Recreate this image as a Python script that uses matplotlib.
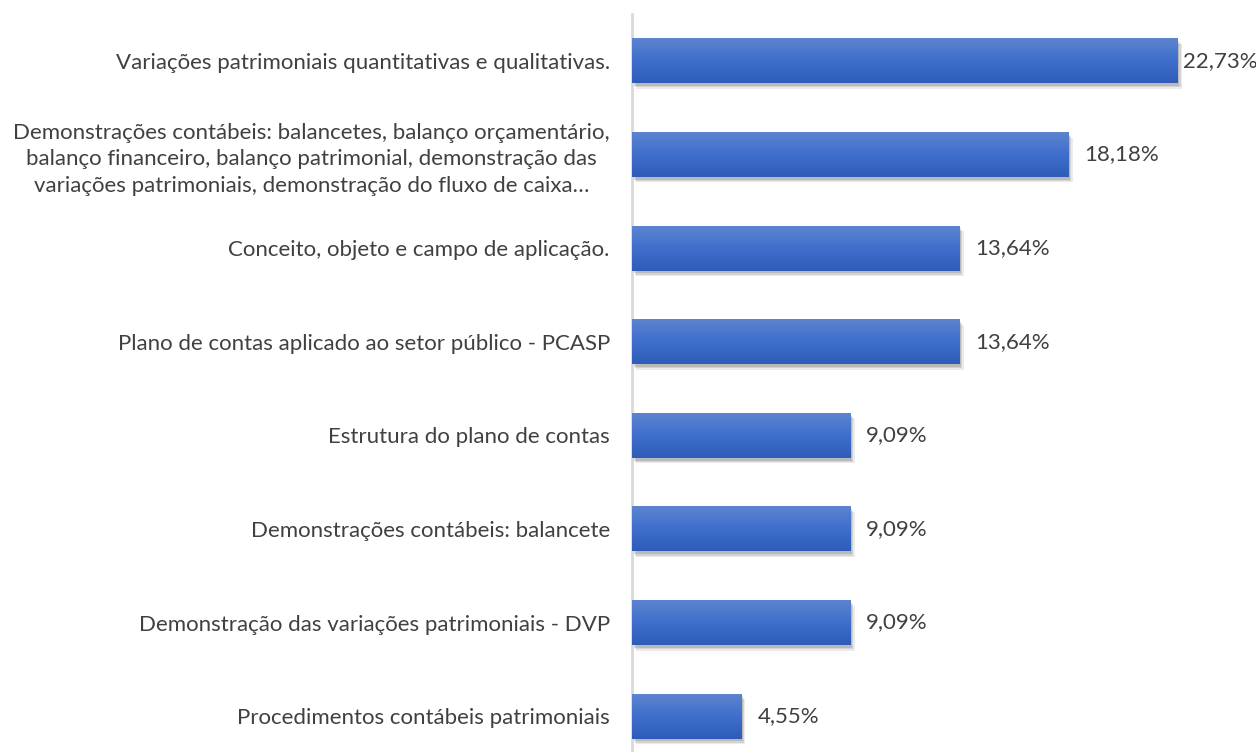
import matplotlib
matplotlib.use("Agg")
import matplotlib.pyplot as plt
import matplotlib.patheffects as pe
import numpy as np
from matplotlib.colors import to_rgb

categories = [
    "Variações patrimoniais quantitativas e qualitativas.",
    "Demonstrações contábeis: balancetes, balanço orçamentário,\nbalanço financeiro, balanço patrimonial, demonstração das\nvariações patrimoniais, demonstração do fluxo de caixa…",
    "Conceito, objeto e campo de aplicação.",
    "Plano de contas aplicado ao setor público - PCASP",
    "Estrutura do plano de contas",
    "Demonstrações contábeis: balancete",
    "Demonstração das variações patrimoniais - DVP",
    "Procedimentos contábeis patrimoniais",
]
values = [22.73, 18.18, 13.64, 13.64, 9.09, 9.09, 9.09, 4.55]
value_labels = ["22,73%", "18,18%", "13,64%", "13,64%", "9,09%", "9,09%", "9,09%", "4,55%"]

W, H = 1256, 752
fig = plt.figure(figsize=(W / 100, H / 100), dpi=100)
plt.rcParams['font.family'] = ['Lato', 'DejaVu Sans']

ax_left = 632 / W
ax_top = 1 - 14 / H
ax_bottom = (H - 763) / H
ax = fig.add_axes([ax_left, ax_bottom, 1 - ax_left, ax_top - ax_bottom])
ax.set_facecolor('none')

y = np.arange(len(categories))
bar_h = 0.48
xmax = 624 / 24.02

bars = ax.barh(y, values, height=bar_h, color='#3d6cc9', zorder=2,
               path_effects=[pe.SimplePatchShadow(offset=(3, -4), shadow_rgbFace='#000000', alpha=0.08),
                             pe.SimplePatchShadow(offset=(2, -3), shadow_rgbFace='#000000', alpha=0.10),
                             pe.SimplePatchShadow(offset=(1, -2), shadow_rgbFace='#000000', alpha=0.12),
                             pe.Normal()])

top_c = np.array(to_rgb('#5c84d0'))
mid_c = np.array(to_rgb('#3f6fcc'))
bot_c = np.array(to_rgb('#2e5cb8'))
t = np.linspace(0, 1, 64)[:, None]
grad = np.where(t < 0.5, top_c + (mid_c - top_c) * (t / 0.5), mid_c + (bot_c - mid_c) * ((t - 0.5) / 0.5))
grad = grad[:, None, :]

for bar in bars:
    x0 = bar.get_x()
    x1 = x0 + bar.get_width()
    yt = bar.get_y()
    yb = yt + bar.get_height()
    im = ax.imshow(grad, extent=(x0, x1, yb, yt), origin='upper', aspect='auto', zorder=3,
                   interpolation='bilinear')
    im.set_clip_path(bar)

ax.set_xlim(0, xmax)
ax.set_ylim(len(categories) - 0.5, -0.5)

text_color = '#404040'
fs = 16
renderer = fig.canvas.get_renderer()
for yi, v, lab in zip(y, values, value_labels):
    txt = ax.annotate(lab, (v, yi), xytext=(16, 0), textcoords='offset pixels',
                      ha='left', va='center', fontsize=fs, color=text_color, zorder=4,
                      annotation_clip=False)
    bb = txt.get_window_extent(renderer)
    if bb.x1 > W - 2:
        txt.set_position((5, 0))

ax.set_yticks(y)
ax.set_yticklabels(categories, fontsize=fs, color=text_color, multialignment='center',
                   linespacing=1.38)
ax.tick_params(axis='y', length=0, pad=16)
ax.set_xticks([])
for s in ['top', 'right', 'bottom']:
    ax.spines[s].set_visible(False)
ax.spines['left'].set_color('#d9d9d9')
ax.spines['left'].set_linewidth(2)

fig.savefig('out.png', dpi=100)
